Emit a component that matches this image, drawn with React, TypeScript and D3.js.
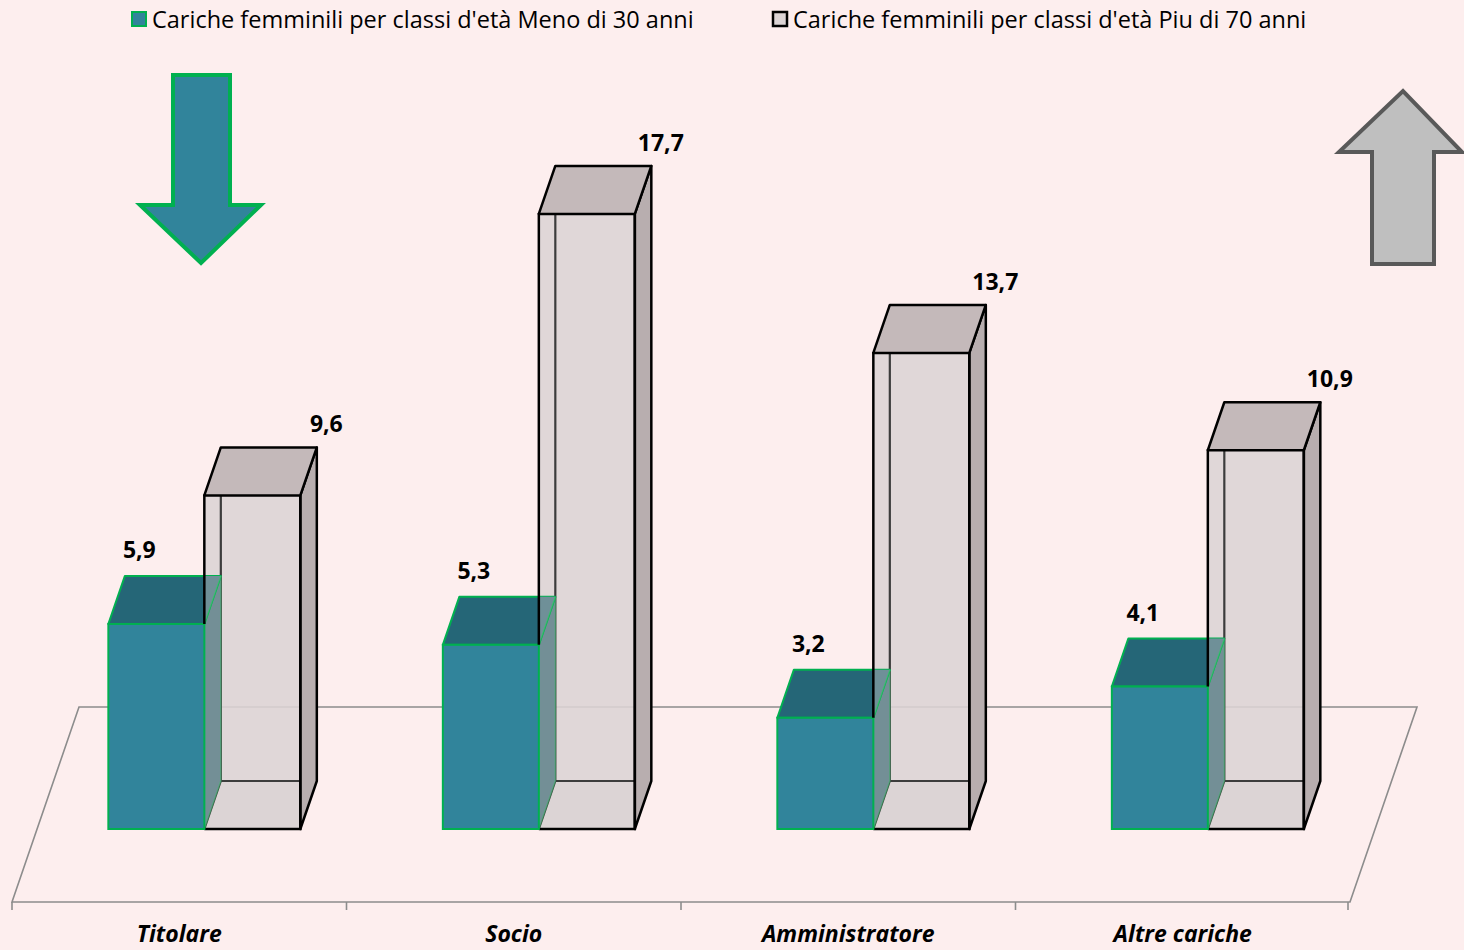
import React, { useEffect, useRef } from 'react';
import * as d3 from 'd3';

const categories = ['Titolare', 'Socio', 'Amministratore', 'Altre cariche'];
const seriesNames = [
  "Cariche femminili per classi d'età Meno di 30 anni",
  "Cariche femminili per classi d'età Piu di 70 anni",
];
const under30 = [5.9, 5.3, 3.2, 4.1];
const over70 = [9.6, 17.7, 13.7, 10.9];

const BG = '#fdeeee';
const TEAL = '#31849b';
const TEAL_TOP = '#256677';
const TEAL_SIDE = '#738f96';
const GREEN = '#00b050';
const GREY_FRONT = '#dcd4d5';
const GREY_TOP = '#c4b9ba';
const GREY_SIDE = '#b8aeaf';
const FONT = '"Open Sans", Lato, sans-serif';

const App: React.FC = () => {
  const svgRef = useRef<SVGSVGElement>(null);

  useEffect(() => {
    if (!svgRef.current) return;
    const width = 1464;
    const height = 950;

    const svg = d3.select(svgRef.current);
    svg.selectAll('*').remove();

    svg.append('rect').attr('width', width).attr('height', height).attr('fill', BG);

    // floor (front edge spans the category band)
    const floorFront = 902;
    const floorBack = 707;
    const floorDx = 67;
    const slope = floorDx / (floorFront - floorBack);

    const x = d3.scaleBand<string>().domain(categories).range([12, 1350]).padding(0);
    const y = d3.scaleLinear().domain([0, 20]).range([829, 829 - 20 * 34.75]);

    const base = y(0);
    const depthY = 48;
    const depthX = depthY * slope;
    const shift = (floorFront - base) * slope; // bars sit at mid depth
    const barW = 96;

    const line = d3.line<[number, number]>();
    const poly = (pts: [number, number][]) => line(pts)! + 'Z';

    svg.append('path')
      .attr('d', poly([[12, floorFront], [1350, floorFront], [1350 + floorDx, floorBack], [12 + floorDx, floorBack]]))
      .attr('fill', 'none')
      .attr('stroke', '#8c8c8c')
      .attr('stroke-width', 1.6);

    // ticks
    const tickXs = [...categories.map((c) => x(c)!), 1350 - 2];
    svg.append('g').selectAll('line').data(tickXs).enter().append('line')
      .attr('x1', (d) => d).attr('x2', (d) => d)
      .attr('y1', floorFront).attr('y2', floorFront + 8)
      .attr('stroke', '#8c8c8c').attr('stroke-width', 1.6);

    // category labels
    svg.append('g').selectAll('text').data(categories).enter().append('text')
      .attr('x', (d) => x(d)! + x.bandwidth() / 2)
      .attr('y', 942)
      .attr('text-anchor', 'middle')
      .style('font-family', FONT)
      .style('font-size', '23px')
      .style('font-weight', 'bold')
      .style('font-style', 'italic')
      .attr('fill', '#000')
      .text((d) => d);

    const bars = svg.append('g');
    const fmt = (v: number) => v.toFixed(1).replace('.', ',');

    categories.forEach((c, i) => {
      const center = x(c)! + x.bandwidth() / 2 + shift;
      const tx0 = center - barW;
      const tx1 = center;
      const gx0 = center;
      const gx1 = center + barW;
      const tTop = y(under30[i]);
      const gTop = y(over70[i]);

      // grey box (drawn first, teal overlaps it)
      const g = bars.append('g');
      g.append('path') // bottom face
        .attr('d', poly([[gx0, base], [gx1, base], [gx1 + depthX, base - depthY], [gx0 + depthX, base - depthY]]))
        .attr('fill', GREY_FRONT);
      g.append('path') // front face
        .attr('d', poly([[gx0, base], [gx1, base], [gx1, gTop], [gx0, gTop]]))
        .attr('fill', GREY_FRONT).attr('fill-opacity', 0.88);
      g.append('path') // hidden back edges
        .attr('d', `M${gx0},${base}L${gx0 + depthX},${base - depthY}L${gx1 + depthX},${base - depthY}M${gx0 + depthX},${base - depthY}L${gx0 + depthX},${gTop - depthY}`)
        .attr('fill', 'none').attr('stroke', '#3c3c3c').attr('stroke-width', 2.2);
      g.append('path') // side face
        .attr('d', poly([[gx1, base], [gx1 + depthX, base - depthY], [gx1 + depthX, gTop - depthY], [gx1, gTop]]))
        .attr('fill', GREY_SIDE).attr('stroke', '#000').attr('stroke-width', 2.5).attr('stroke-linejoin', 'round');
      g.append('path') // top face
        .attr('d', poly([[gx0, gTop], [gx1, gTop], [gx1 + depthX, gTop - depthY], [gx0 + depthX, gTop - depthY]]))
        .attr('fill', GREY_TOP).attr('stroke', '#000').attr('stroke-width', 2.5).attr('stroke-linejoin', 'round');
      g.append('path') // front outline
        .attr('d', `M${gx0},${base}L${gx1},${base}L${gx1},${gTop}`)
        .attr('fill', 'none').attr('stroke', '#000').attr('stroke-width', 2.5);

      // teal box
      const t = bars.append('g');
      t.append('path')
        .attr('d', poly([[tx1, base], [tx1 + depthX, base - depthY], [tx1 + depthX, tTop - depthY], [tx1, tTop]]))
        .attr('fill', TEAL_SIDE).attr('stroke', '#3fbf70').attr('stroke-opacity', 0.5).attr('stroke-width', 1.5);
      t.append('path')
        .attr('d', poly([[tx0, tTop], [tx1, tTop], [tx1 + depthX, tTop - depthY], [tx0 + depthX, tTop - depthY]]))
        .attr('fill', TEAL_TOP).attr('stroke', GREEN).attr('stroke-width', 2).attr('stroke-linejoin', 'round');
      t.append('path') // part of the top seen through the grey box
        .attr('d', poly([[tx1, tTop], [tx1 + depthX, tTop - depthY], [tx1, tTop - depthY]]))
        .attr('fill', '#6f9098');
      t.append('path')
        .attr('d', `M${tx1},${tTop}L${tx1 + depthX},${tTop - depthY}`)
        .attr('stroke', '#3fbf70').attr('stroke-opacity', 0.6).attr('stroke-width', 1.5);
      t.append('rect')
        .attr('x', tx0).attr('y', tTop).attr('width', barW).attr('height', base - tTop)
        .attr('fill', TEAL).attr('stroke', GREEN).attr('stroke-width', 2);

      // grey front-left edge above the teal box
      bars.append('line')
        .attr('x1', gx0).attr('x2', gx0).attr('y1', gTop - 1).attr('y2', tTop)
        .attr('stroke', '#000').attr('stroke-width', 2.5);

      // value labels
      bars.append('text')
        .attr('x', tx0 + 31).attr('y', tTop - depthY - 18)
        .attr('text-anchor', 'middle')
        .style('font-family', FONT).style('font-size', '23px').style('font-weight', 'bold')
        .text(fmt(under30[i]));
      bars.append('text')
        .attr('x', gx0 + 122).attr('y', gTop - depthY - 15)
        .attr('text-anchor', 'middle')
        .style('font-family', FONT).style('font-size', '23px').style('font-weight', 'bold')
        .text(fmt(over70[i]));
    });

    // legend
    const legend = svg.append('g');
    const legendX = [131, 772];
    seriesNames.forEach((name, i) => {
      legend.append('rect')
        .attr('x', legendX[i] + 1).attr('y', 12).attr('width', 14).attr('height', 14)
        .attr('fill', i === 0 ? TEAL : GREY_FRONT)
        .attr('stroke', i === 0 ? GREEN : '#000')
        .attr('stroke-width', i === 0 ? 2 : 2.5);
      legend.append('text')
        .attr('x', legendX[i] + 21).attr('y', 28)
        .style('font-family', FONT).style('font-size', '23.5px')
        .attr('fill', '#000')
        .text(name);
    });

    // decorative arrows
    svg.append('path')
      .attr('d', poly([[173, 75], [230, 75], [230, 205], [261, 205], [201, 263], [140, 205], [173, 205]]))
      .attr('fill', TEAL).attr('stroke', GREEN).attr('stroke-width', 4);
    svg.append('path')
      .attr('d', poly([[1372, 264], [1434, 264], [1434, 152], [1462, 152], [1403, 91], [1339, 152], [1372, 152]]))
      .attr('fill', '#bfbfbf').attr('stroke', '#595959').attr('stroke-width', 4);
  }, []);

  return (
    <svg
      ref={svgRef}
      width={1464}
      height={950}
      style={{ position: 'absolute', left: 0, top: 0, display: 'block' }}
    />
  );
};

export default App;
